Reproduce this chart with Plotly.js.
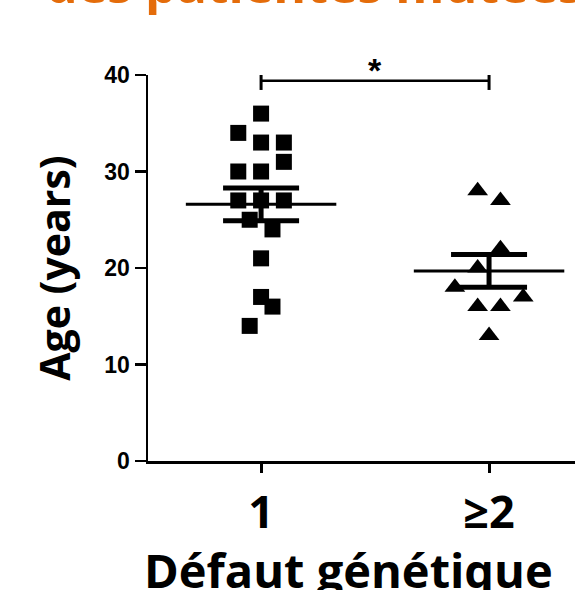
<!DOCTYPE html>
<html><head><meta charset="utf-8">
<script src="https://cdn.plot.ly/plotly-3.0.1.min.js"></script>
<style>html,body{margin:0;padding:0;background:#fff}</style>
</head><body><div id="chart" style="width:575px;height:590px"></div>
<script>
// categories
const groupLabels = ['1', '≥2'];
const groupPos = [1, 2];
// group "1" (squares): jittered positions and ages
const g1X = [1, 0.9, 1, 1.1, 1.1, 0.9, 1, 0.9, 1, 1.1, 0.95, 1.05, 1, 1, 1.05, 0.95];
const g1Age = [36, 34, 33, 33, 31, 30, 30, 27, 27, 27, 25, 24, 21, 17, 16, 14];
// group "≥2" (triangles)
const g2X = [1.95, 2.05, 2.05, 1.95, 1.85, 2.15, 1.95, 2.05, 2.0];
const g2Age = [28, 27, 22, 20, 18, 17, 16, 16, 13];
// summary statistics
const means = [26.6, 19.7];
const sems = [1.7, 1.7];
const meanHalfWidth = 0.33;
// significance bracket
const sigLevel = 39.4;
const sigTick = 0.95;
const sigText = '*';
const yTicks = [0, 10, 20, 30, 40];
const titleText = 'des patientes mutées';
const yTitle = 'Age (years)';
const xTitle = 'Défaut génétique';

const traces = [];
groupPos.forEach((p, i) => {
  traces.push({
    type: 'scatter', mode: 'lines', showlegend: false, hoverinfo: 'skip',
    x: [p - meanHalfWidth, p + meanHalfWidth], y: [means[i], means[i]],
    line: {color: '#000', width: 3}
  });
});
traces.push({
  type: 'scatter', mode: 'markers', showlegend: false,
  x: groupPos, y: means,
  marker: {size: 1, color: 'rgba(0,0,0,0)'},
  error_y: {type: 'data', array: sems, visible: true, color: '#000', thickness: 5, width: 38}
});
traces.push({
  type: 'scatter', mode: 'lines', showlegend: false, cliponaxis: false,
  x: groupPos, y: [sigLevel, sigLevel],
  line: {color: '#000', width: 2.5},
  error_y: {type: 'data', array: [sigTick, sigTick], visible: true, color: '#000', thickness: 3, width: 0}
});
traces.push({
  type: 'scatter', mode: 'markers', name: '1', showlegend: false, cliponaxis: false,
  x: g1X, y: g1Age,
  marker: {symbol: 'square', size: 16, color: '#000', line: {width: 0}}
});
traces.push({
  type: 'scatter', mode: 'markers', name: '≥2', showlegend: false, cliponaxis: false,
  x: g2X, y: g2Age,
  marker: {symbol: 'triangle-up', size: 18, color: '#000', line: {width: 0}}
});

const layout = {
  width: 575, height: 590,
  margin: {l: 148, r: 0, t: 75, b: 129},
  paper_bgcolor: '#fff', plot_bgcolor: '#fff',
  showlegend: false,
  title: {
    text: titleText, xref: 'container', yref: 'container',
    x: 46 / 575, xanchor: 'left', y: 1 - 3 / 590, yanchor: 'bottom',
    font: {family: 'Open Sans', size: 50, weight: 'bold', color: '#E46C0A'}
  },
  xaxis: {
    range: [0.504, 2.377], tickmode: 'array', tickvals: groupPos, ticktext: groupLabels,
    showgrid: false, zeroline: false, showline: true, linecolor: '#000', linewidth: 2.5,
    ticks: 'outside', ticklen: 9, tickwidth: 3, tickcolor: '#000',
    ticklabelstandoff: 1,
    tickfont: {family: 'Open Sans', size: 45, weight: 'bold', color: '#000'}
  },
  yaxis: {
    range: [0, 40], tickmode: 'array', tickvals: yTicks,
    showgrid: false, zeroline: false, showline: true, linecolor: '#000', linewidth: 2.5,
    ticks: 'outside', ticklen: 11, tickwidth: 2.5, tickcolor: '#000',
    tickfont: {family: 'Liberation Sans', size: 23, weight: 'bold', color: '#000'},
    title: {text: yTitle, standoff: 21, font: {family: 'Open Sans', size: 41, weight: 'bold', color: '#000'}}
  },
  annotations: [
    {xref: 'x', yref: 'y', x: 1.5, y: sigLevel, text: sigText, showarrow: false,
     yanchor: 'bottom', yshift: -10,
     font: {family: 'Liberation Sans', size: 34, weight: 'bold', color: '#000'}},
    {xref: 'paper', yref: 'paper', x: (348 - 148) / 427, y: -0.283, xanchor: 'center', yanchor: 'middle',
     text: xTitle, showarrow: false,
     font: {family: 'Open Sans', size: 47, weight: 'bold', color: '#000'}}
  ]
};
Plotly.newPlot('chart', traces, layout, {displayModeBar: false, staticPlot: true});
</script></body></html>
